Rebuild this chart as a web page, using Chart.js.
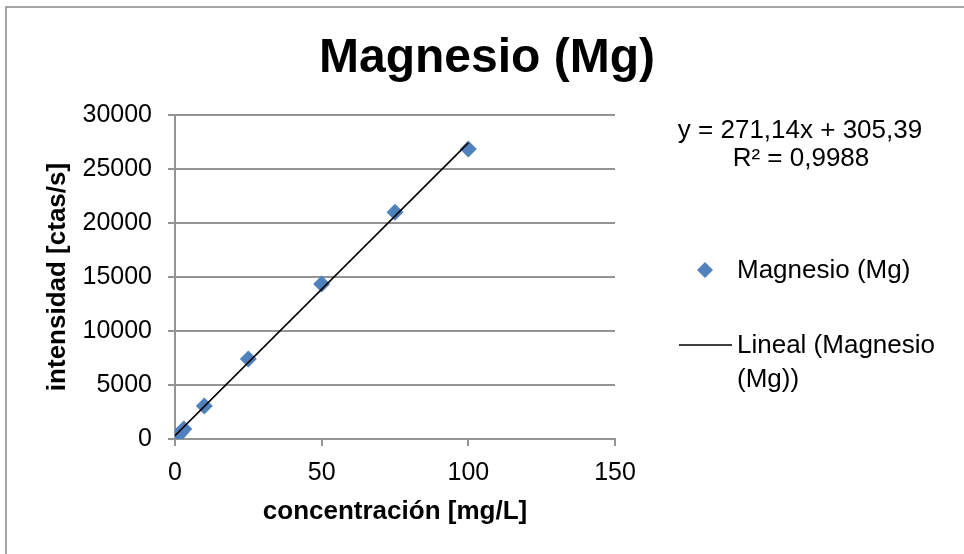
<!DOCTYPE html>
<html>
<head>
<meta charset="utf-8">
<script src="https://cdn.jsdelivr.net/npm/chart.js@4"></script>
<style>
  html, body { margin: 0; padding: 0; background: #fff; }
  #wrap { width: 964px; height: 554px; }
</style>
</head>
<body>
<div id="wrap"><canvas id="myChart" width="964" height="554"></canvas></div>
<script>
// datos
const concentracion = [0, 1, 2, 3, 10, 25, 50, 75, 100];
const intensidad = [30, 320, 620, 930, 3050, 7400, 14350, 21000, 26850];
// y = m x + b (linea de tendencia de Excel)
const tendencia = [271.14, 305.39];
const ecuacion = ['y = 271,14x + 305,39', 'R\u00b2 = 0,9988'];
const xTicks = [0, 50, 100, 150];
const yTicks = [0, 5000, 10000, 15000, 20000, 25000, 30000];

const FONT = "'Liberation Sans', Arial, sans-serif";
const AZUL = 'rgb(79,129,189)';
const GRIS = '#949494';

const xMin = Math.min(...concentracion);
const xMax = Math.max(...concentracion);

/**
 * titulo, leyenda, ecuacion y borde
 */
const extras = {
    id: 'extras',
    beforeDraw(chart) {
        const ctx = chart.ctx;
        ctx.save();
        ctx.fillStyle = '#fff';
        ctx.fillRect(0, 0, chart.width, chart.height);
        ctx.strokeStyle = '#8a8a8a';
        ctx.lineWidth = 1.5;
        ctx.strokeRect(6, 7, chart.width + 20, chart.height + 20);
        ctx.restore();
    },
    afterDraw(chart) {
        const ctx = chart.ctx;
        ctx.save();
        ctx.fillStyle = '#000';
        ctx.textBaseline = 'middle';

        // titulo
        ctx.font = 'bold 48px ' + FONT;
        ctx.textAlign = 'center';
        ctx.fillText('Magnesio (Mg)', 487, 59);

        // ecuacion
        ctx.font = '26px ' + FONT;
        ctx.fillText(ecuacion[0], 800, 131);
        ctx.fillText(ecuacion[1], 801, 159);

        // leyenda
        ctx.textAlign = 'left';
        ctx.fillStyle = AZUL;
        ctx.beginPath();
        ctx.moveTo(705, 262);
        ctx.lineTo(713, 270);
        ctx.lineTo(705, 278);
        ctx.lineTo(697, 270);
        ctx.closePath();
        ctx.fill();
        ctx.fillStyle = '#000';
        ctx.fillText(chart.data.datasets[0].label, 737, 271);

        ctx.strokeStyle = '#000';
        ctx.lineWidth = 1.5;
        ctx.beginPath();
        ctx.moveTo(679, 345);
        ctx.lineTo(732, 345);
        ctx.stroke();
        ctx.fillText('Lineal (Magnesio', 737, 346);
        ctx.fillText('(Mg))', 737, 380);
        ctx.restore();
    }
};

const data = {
    datasets: [{
        label: 'Magnesio (Mg)',
        type: 'scatter',
        data: concentracion.map((x, i) => ({x: x, y: intensidad[i]})),
        pointStyle: 'rectRot',
        pointRadius: 8.5,
        pointHoverRadius: 8.5,
        backgroundColor: AZUL,
        borderColor: AZUL,
        borderWidth: 0,
        order: 2
    }, {
        label: 'Lineal (Magnesio (Mg))',
        type: 'line',
        data: [xMin, xMax].map(x => ({x: x, y: tendencia[0] * x + tendencia[1]})),
        borderColor: '#000',
        borderWidth: 1.6,
        pointRadius: 0,
        fill: false,
        order: 1
    }]
};

const config = {
    type: 'scatter',
    data: data,
    plugins: [extras],
    options: {
        responsive: false,
        animation: false,
        layout: {
            padding: { top: 115, right: 349, bottom: 0, left: 0 }
        },
        plugins: {
            legend: { display: false },
            title: { display: false },
            tooltip: { enabled: false }
        },
        scales: {
            x: {
                type: 'linear',
                min: 0,
                max: 150,
                afterFit: s => { s.height = 115; },
                afterBuildTicks: s => { s.ticks = xTicks.map(v => ({value: v})); },
                grid: {
                    color: 'rgba(0,0,0,0)',
                    tickColor: GRIS,
                    tickLength: 7,
                    lineWidth: 2
                },
                border: { color: GRIS, width: 2 },
                ticks: {
                    color: '#000',
                    padding: 12,
                    callback: v => String(v),
                    font: { family: FONT, size: 25 }
                },
                title: {
                    display: true,
                    text: 'concentración [mg/L]',
                    color: '#000',
                    font: { family: FONT, size: 26, weight: 'bold' },
                    padding: { top: 0, bottom: 27 }
                }
            },
            y: {
                type: 'linear',
                min: 0,
                max: 30000,
                afterFit: s => { s.width = 175; },
                afterBuildTicks: s => { s.ticks = yTicks.map(v => ({value: v})); },
                grid: {
                    color: GRIS,
                    tickColor: GRIS,
                    tickLength: 7,
                    lineWidth: 2
                },
                border: { color: GRIS, width: 2 },
                ticks: {
                    color: '#000',
                    padding: 16,
                    callback: v => String(v),
                    font: { family: FONT, size: 25 }
                },
                title: {
                    display: true,
                    text: 'intensidad [ctas/s]',
                    color: '#000',
                    font: { family: FONT, size: 26, weight: 'bold' },
                    padding: { top: 42, bottom: 0 }
                }
            }
        }
    }
};

var myChart = new Chart(document.getElementById('myChart'), config);
</script>
</body>
</html>
